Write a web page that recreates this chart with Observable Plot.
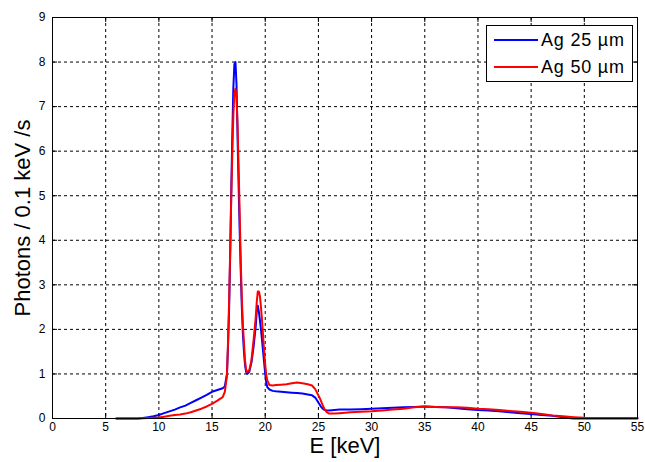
<!DOCTYPE html>
<html>
<head>
<meta charset="utf-8">
<script src="https://cdn.jsdelivr.net/npm/d3@7"></script>
<script src="https://cdn.jsdelivr.net/npm/@observablehq/plot@0.6"></script>
<style>
  body { margin: 0; background: #fff; font-family: "Liberation Sans", Arial, sans-serif; }
  #wrap { position: relative; width: 645px; height: 462px; }
  #legend { position: absolute; left: 486px; top: 25px; width: 145px; height: 55px; border: 1px solid #000; background: #fff; font-size: 18px; letter-spacing: 0.8px; }
  .row { position: absolute; left: 7px; height: 20px; display: flex; align-items: center; }
  .sw { width: 44px; height: 2px; margin-right: 3px; }
</style>
</head>
<body>
<div id="wrap">
  <div id="chart"></div>
  <div id="legend">
    <div class="row" style="top:4px"><div class="sw" style="background:#0000ff"></div><span>Ag 25 µm</span></div>
    <div class="row" style="top:31px"><div class="sw" style="background:#ff0000"></div><span>Ag 50 µm</span></div>
  </div>
</div>
<script>
const seriesNames = ["Ag 25 µm", "Ag 50 µm"];
const seriesColors = ["#0000ff", "#ff0000"];
const energy = [6, 7, 8, 8.5, 9, 9.5, 10, 10.5, 11, 11.5, 12, 12.5, 13, 13.5, 14, 14.5, 15, 15.5, 16, 16.2, 16.4, 16.5, 16.6, 16.7, 16.8, 16.9, 17.0, 17.1, 17.2, 17.3, 17.4, 17.5, 17.6, 17.7, 17.8, 17.9, 18.0, 18.1, 18.2, 18.3, 18.5, 18.7, 18.9, 19.1, 19.2, 19.3, 19.4, 19.5, 19.6, 19.7, 19.8, 19.9, 20.0, 20.1, 20.2, 20.4, 20.7, 21, 21.5, 22, 22.5, 23, 23.5, 24, 24.4, 24.7, 25, 25.2, 25.4, 25.6, 25.8, 26, 26.5, 27, 28, 29, 30, 31, 32, 33, 34, 35, 36, 37, 38, 39, 40, 41, 42, 43, 44, 45, 46, 47, 48, 48.5, 49, 50, 51, 52, 53, 54, 55];
const ag25 = [0, 0, 0, 0.01, 0.03, 0.05, 0.08, 0.12, 0.16, 0.2, 0.25, 0.29, 0.35, 0.41, 0.47, 0.53, 0.6, 0.64, 0.68, 0.72, 1.0, 1.6, 2.4, 3.6, 5.0, 6.3, 7.4, 7.95, 8.0, 7.5, 6.3, 5.2, 4.2, 3.3, 2.5, 1.9, 1.5, 1.2, 1.05, 1.0, 1.05, 1.25, 1.6, 2.05, 2.4, 2.53, 2.4, 2.2, 2.0, 1.75, 1.5, 1.25, 1.0, 0.8, 0.7, 0.65, 0.62, 0.61, 0.6, 0.59, 0.58, 0.57, 0.56, 0.54, 0.52, 0.47, 0.36, 0.28, 0.22, 0.19, 0.18, 0.18, 0.19, 0.2, 0.2, 0.21, 0.22, 0.23, 0.24, 0.25, 0.26, 0.27, 0.26, 0.25, 0.23, 0.21, 0.19, 0.18, 0.16, 0.14, 0.12, 0.1, 0.08, 0.06, 0.03, 0.01, 0, 0, 0, 0, 0, 0, 0];
const ag50 = [0, 0, 0, 0.005, 0.01, 0.015, 0.02, 0.04, 0.06, 0.08, 0.09, 0.11, 0.14, 0.18, 0.22, 0.27, 0.33, 0.4, 0.48, 0.6, 0.95, 1.7, 2.6, 3.7, 4.9, 5.9, 6.8, 7.3, 7.4, 7.2, 6.6, 5.6, 4.6, 3.5, 2.7, 2.1, 1.7, 1.3, 1.1, 1.04, 1.08, 1.3, 1.75, 2.25, 2.6, 2.85, 2.85, 2.75, 2.5, 2.2, 1.85, 1.5, 1.2, 0.98, 0.85, 0.75, 0.74, 0.75, 0.76, 0.77, 0.79, 0.81, 0.79, 0.77, 0.74, 0.66, 0.52, 0.42, 0.3, 0.2, 0.14, 0.11, 0.11, 0.12, 0.14, 0.15, 0.16, 0.18, 0.2, 0.22, 0.25, 0.27, 0.26, 0.25, 0.25, 0.24, 0.22, 0.21, 0.19, 0.17, 0.15, 0.13, 0.1, 0.07, 0.05, 0.04, 0.03, 0.015, 0.01, 0.01, 0.01, 0.01, 0.01];
const xTicks = [0, 5, 10, 15, 20, 25, 30, 35, 40, 45, 50, 55];
const yTicks = [0, 1, 2, 3, 4, 5, 6, 7, 8, 9];
const xLabel = "E [keV]";
const yLabel = "Photons / 0.1 keV /s";

const rows = [];
[ag25, ag50].forEach((vals, i) => {
  energy.forEach((e, j) => rows.push({E: e, v: vals[j], s: seriesNames[i]}));
});

const W = 645, H = 462, mL = 52, mR = 8, mT = 17, mB = 44;
const pw = W - mL - mR, ph = H - mT - mB;
const tk = 5;

const chart = Plot.plot({
  width: W, height: H,
  marginLeft: mL, marginRight: mR, marginTop: mT, marginBottom: mB,
  style: {fontFamily: "'Liberation Sans', Arial, sans-serif", background: "#fff", color: "#000"},
  x: {domain: [0, 55]},
  y: {domain: [0, 9]},
  color: {domain: seriesNames, range: seriesColors},
  marks: [
    Plot.ruleX(xTicks.slice(1, -1), {x: d => d, stroke: "#000", strokeDasharray: "3,3", strokeWidth: 1}),
    Plot.ruleY(yTicks.slice(1, -1), {y: d => d, stroke: "#000", strokeDasharray: "3,3", strokeWidth: 1}),
    Plot.ruleX(xTicks, {x: d => d, stroke: "#000", insetTop: ph - tk}),
    Plot.ruleX(xTicks, {x: d => d, stroke: "#000", insetBottom: ph - tk}),
    Plot.ruleY(yTicks, {y: d => d, stroke: "#000", insetRight: pw - tk}),
    Plot.ruleY(yTicks, {y: d => d, stroke: "#000", insetLeft: pw - tk}),
    Plot.line(rows, {x: "E", y: "v", z: "s", stroke: "s", strokeWidth: 2}),
    Plot.frame({stroke: "#000"}),
    Plot.axisX(xTicks, {tickSize: 0, tickPadding: 4, fontSize: 12, label: null}),
    Plot.axisY(yTicks, {tickSize: 0, tickPadding: 7, fontSize: 12, label: null}),
    Plot.text([xLabel], {frameAnchor: "bottom", dy: 34, fontSize: 22}),
    Plot.text([yLabel], {frameAnchor: "left", textAnchor: "middle", dx: -30, rotate: -90, fontSize: 22})
  ]
});
document.getElementById("chart").appendChild(chart);
</script>
</body>
</html>
